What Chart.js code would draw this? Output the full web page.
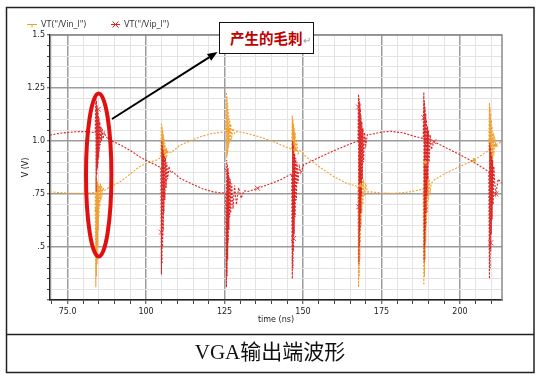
<!DOCTYPE html>
<html>
<head>
<meta charset="utf-8">
<script src="https://cdn.jsdelivr.net/npm/chart.js@4.4.0/dist/chart.umd.min.js"></script>
<style>
html,body{margin:0;padding:0;background:#fff;}
#wrap{position:relative;width:537px;height:379px;overflow:hidden;background:#fff;}
#c{position:absolute;left:0;top:0;}
#note{position:absolute;left:219px;top:22px;width:95px;height:32px;border:1px solid #111;background:#fff;box-sizing:border-box;
  font-family:"Noto Sans CJK SC",sans-serif;font-weight:bold;font-size:14.5px;color:#c00000;line-height:29px;padding-left:10px;white-space:nowrap;}
#note span{color:#999;font-weight:normal;font-size:10px;}
#cap{position:absolute;left:6px;width:528px;top:335px;height:37px;text-align:center;line-height:34px;
  font-family:"Liberation Serif","Noto Sans CJK SC",serif;font-size:21px;color:#111;}
</style>
</head>
<body>
<div id="wrap">
<canvas id="c" width="537" height="379"></canvas>
<div id="note">产生的毛刺<span>↵</span></div>
<div id="cap">VGA输出端波形</div>
</div>
<script>
// ---- data ----
const seriesNames = ['VT("/Vin_l")', 'VT("/Vip_l")'];

const vinT = [69.4,72.0,75.0,78.5,82.0,83.8,
  84.0,84.1,84.2,84.3,84.4,84.5,84.6,84.7,84.8,84.9,85.0,85.1,85.25,85.4,85.6,85.8,86.0,86.3,86.7,87.5,
  89.5,92.0,95.0,98.0,101.0,103.3,104.7,
  104.9,105.0,105.1,105.2,105.3,105.4,105.5,105.6,105.7,105.85,106.0,106.2,106.4,106.6,107.0,108.0,
  110.8,114.0,117.2,121.0,125.4,
  125.6,125.7,125.8,125.9,126.0,126.1,126.2,126.3,126.4,126.5,126.65,126.8,127.0,127.3,127.7,128.2,129.0,
  132.1,136.0,140.6,144.0,146.4,
  146.6,146.7,146.8,146.9,147.0,147.1,147.2,147.35,147.5,147.7,148.0,148.4,149.0,
  151.0,155.5,160.0,164.0,167.5,
  167.7,167.8,167.9,168.0,168.1,168.2,168.3,168.4,168.5,168.6,168.75,168.9,169.1,169.3,169.6,170.0,170.5,
  171.5,175.0,178.9,183.0,186.0,188.3,
  188.5,188.6,188.7,188.8,188.9,189.0,189.1,189.2,189.35,189.5,189.65,189.8,190.0,190.2,190.5,190.9,
  191.7,195.0,200.0,204.5,207.0,209.2,
  209.4,209.5,209.6,209.7,209.8,209.9,210.0,210.1,210.25,210.4,210.6,210.8,211.1,211.4,212.2,213.4];
const vinV = [0.760,0.757,0.754,0.753,0.755,0.757,
  0.31,0.83,0.36,0.82,0.42,0.81,0.50,0.80,0.58,0.79,0.64,0.79,0.69,0.80,0.72,0.79,0.75,0.78,0.765,0.775,
  0.79,0.81,0.845,0.88,0.90,0.91,0.92,
  1.085,0.86,1.07,0.87,1.05,0.88,1.03,0.89,1.01,0.90,0.99,0.91,0.97,0.93,0.95,0.945,
  0.98,1.0,1.02,1.035,1.044,
  1.23,0.92,1.21,0.93,1.18,0.95,1.15,0.97,1.12,0.99,1.10,1.00,1.08,1.02,1.06,1.035,1.045,
  1.036,1.02,0.997,0.975,0.96,
  1.12,0.94,1.10,0.95,1.08,0.955,1.06,0.96,1.04,0.95,1.0,0.94,0.955,
  0.925,0.875,0.83,0.80,0.785,
  0.31,0.94,0.36,0.92,0.44,0.90,0.52,0.88,0.60,0.86,0.66,0.84,0.70,0.82,0.74,0.80,0.76,
  0.76,0.755,0.753,0.758,0.765,0.775,
  0.32,0.92,0.36,0.90,0.44,0.88,0.52,0.86,0.60,0.84,0.66,0.83,0.72,0.82,0.76,0.80,
  0.815,0.845,0.88,0.91,0.935,0.955,
  1.18,0.80,1.16,0.82,1.13,0.85,1.10,0.88,1.07,0.90,1.04,0.93,1.01,0.98,0.99,0.995];

const vipT = [69.4,72.0,74.7,78.0,81.0,83.8,
  84.0,84.1,84.2,84.3,84.4,84.5,84.6,84.7,84.8,84.9,85.0,85.1,85.25,85.4,85.6,85.8,86.0,86.3,86.7,87.2,
  88.4,92.0,95.0,98.0,101.2,104.7,
  104.9,105.0,105.1,105.2,105.3,105.4,105.5,105.6,105.7,105.85,106.0,106.2,106.4,106.6,106.9,107.3,107.8,108.5,
  110.8,115.0,118.0,121.4,125.4,
  125.6,125.7,125.8,125.9,126.0,126.1,126.2,126.3,126.4,126.5,126.65,126.8,127.0,127.3,127.7,128.2,128.8,129.5,130.3,131.2,
  132.5,135.5,139.0,142.7,146.4,
  146.6,146.7,146.8,146.9,147.0,147.1,147.2,147.35,147.5,147.7,147.9,148.1,148.4,148.8,149.3,
  150.2,155.5,160.0,164.0,167.5,
  167.7,167.8,167.9,168.0,168.1,168.2,168.3,168.4,168.5,168.6,168.75,168.9,169.1,169.3,169.6,170.0,170.5,
  172.0,175.0,178.0,182.0,186.0,188.3,
  188.5,188.6,188.7,188.8,188.9,189.0,189.1,189.2,189.35,189.5,189.65,189.8,190.0,190.2,190.5,190.9,
  191.7,196.0,200.2,205.0,209.2,
  209.4,209.5,209.6,209.7,209.8,209.9,210.0,210.1,210.25,210.4,210.6,210.8,211.1,211.4,212.2,213.4];
const vipV = [1.028,1.035,1.040,1.044,1.044,1.039,
  1.21,0.76,1.19,0.84,1.17,0.87,1.15,0.89,1.13,0.92,1.11,0.95,1.09,0.98,1.07,1.00,1.06,1.01,1.04,1.02,
  1.005,0.98,0.955,0.925,0.90,0.875,
  0.37,1.00,0.42,0.98,0.50,0.96,0.58,0.94,0.66,0.93,0.72,0.92,0.78,0.90,0.82,0.88,0.85,0.855,
  0.824,0.795,0.775,0.760,0.753,
  0.31,0.91,0.36,0.89,0.44,0.87,0.52,0.85,0.58,0.83,0.64,0.82,0.66,0.80,0.68,0.79,0.70,0.78,0.73,0.765,
  0.762,0.777,0.795,0.816,0.845,
  0.35,1.00,0.40,0.98,0.48,0.96,0.56,0.94,0.64,0.92,0.72,0.90,0.80,0.88,0.85,
  0.887,0.925,0.955,0.98,1.0,
  1.22,0.42,1.20,0.50,1.18,0.58,1.15,0.66,1.12,0.74,1.09,0.82,1.06,0.90,1.04,0.98,1.03,
  1.032,1.042,1.046,1.038,1.02,1.012,
  1.23,0.43,1.19,0.50,1.16,0.58,1.13,0.66,1.10,0.74,1.07,0.82,1.05,0.90,1.03,0.96,
  0.997,0.965,0.934,0.895,0.855,
  0.35,0.99,0.40,0.97,0.48,0.95,0.56,0.93,0.63,0.91,0.70,0.88,0.80,0.75,0.82,0.80];

const vinMarkT = [84.2,106.5,126.2,147.5,168.3,189.0,204.5,211.4];
const vinMarkV = [0.675,0.95,1.05,0.96,0.79,0.90,0.91,0.98];
const vipMarkT = [84.8,85.2,104.9,125.7,126.0,135.5,147.0,167.7,167.8,169.3,188.5,191.7,209.8,211.4];
const vipMarkV = [1.15,1.05,0.57,0.86,0.71,0.777,0.54,1.16,0.69,1.0,1.11,0.997,0.52,0.75];

const xTickVals = [75,100,125,150,175,200];
const xTickLabels = ['75.0','100','125','150','175','200'];
const yTickVals = [1.5,1.25,1.0,0.75,0.5];
const yTickLabels = ['1.5','1.25','1.0','.75','.5'];
const xTitle = 'time (ns)';
const yTitle = 'V (V)';

// ---- chart ----
const ORANGE = '#f0a032';
const RED = '#dc2424';
const pts = (t, v) => t.map((x, i) => ({x: x, y: v[i]}));
const near = (v, arr) => arr.findIndex(a => Math.abs(a - v) < 1e-6);
const isMajorX = v => Math.abs(v / 25 - Math.round(v / 25)) < 1e-6;
const isMajorY = v => Math.abs(v * 4 - Math.round(v * 4)) < 1e-6;

const decor = {
  id: 'decor',
  afterDraw(chart) {
    const ctx = chart.ctx, a = chart.chartArea;
    ctx.save();
    // plot top/right border
    ctx.strokeStyle = '#8a8a8a'; ctx.lineWidth = 1.5;
    ctx.beginPath(); ctx.moveTo(a.left, a.top); ctx.lineTo(a.right, a.top); ctx.lineTo(a.right, a.bottom); ctx.stroke();
    // outer frame & divider
    ctx.strokeStyle = '#222'; ctx.lineWidth = 1.5;
    ctx.strokeRect(6.5, 7.5, 527.5, 365);
    ctx.beginPath(); ctx.moveTo(6.5, 334.5); ctx.lineTo(534, 334.5); ctx.stroke();
    // legend
    ctx.font = '8px "DejaVu Sans"'; ctx.textBaseline = 'middle'; ctx.fillStyle = '#333';
    ctx.strokeStyle = ORANGE; ctx.lineWidth = 1;
    ctx.beginPath(); ctx.moveTo(27, 24.5); ctx.lineTo(37, 24.5); ctx.moveTo(32, 24.5); ctx.lineTo(32, 27.5); ctx.stroke();
    ctx.fillText(seriesNames[0], 41, 24.5);
    ctx.strokeStyle = RED;
    ctx.beginPath(); ctx.moveTo(111, 24.5); ctx.lineTo(120, 24.5);
    ctx.moveTo(112.5, 21.5); ctx.lineTo(118.5, 27.5); ctx.moveTo(118.5, 21.5); ctx.lineTo(112.5, 27.5); ctx.stroke();
    ctx.fillText(seriesNames[1], 124, 24.5);
    // red ellipse
    ctx.strokeStyle = '#e01010'; ctx.lineWidth = 4;
    ctx.beginPath(); ctx.ellipse(98.7, 175, 12.7, 81.5, 0, 0, Math.PI * 2); ctx.stroke();
    // arrow
    const x0 = 112, y0 = 119, x1 = 217.5, y1 = 52;
    const ang = Math.atan2(y1 - y0, x1 - x0), hl = 10, hw = 4;
    const bx = x1 - hl * Math.cos(ang), by = y1 - hl * Math.sin(ang);
    ctx.strokeStyle = '#000'; ctx.fillStyle = '#000'; ctx.lineWidth = 2;
    ctx.beginPath(); ctx.moveTo(x0, y0); ctx.lineTo(bx, by); ctx.stroke();
    ctx.beginPath(); ctx.moveTo(x1, y1);
    ctx.lineTo(bx + hw * Math.sin(ang), by - hw * Math.cos(ang));
    ctx.lineTo(bx - hw * Math.sin(ang), by + hw * Math.cos(ang));
    ctx.closePath(); ctx.fill();
    ctx.restore();
  }
};

new Chart(document.getElementById('c'), {
  type: 'line',
  data: {
    datasets: [
      {label: seriesNames[1] + ' marks', data: pts(vipMarkT, vipMarkV), showLine: false, pointStyle: 'crossRot',
       pointRadius: 3.5, pointBorderColor: '#e23a3a', pointBorderWidth: 1, order: 0},
      {label: seriesNames[0] + ' marks', data: pts(vinMarkT, vinMarkV), showLine: false, pointStyle: 'triangle',
       pointRadius: 2, pointBackgroundColor: ORANGE, pointBorderColor: ORANGE, pointBorderWidth: 1, order: 0},
      {label: seriesNames[1], data: pts(vipT, vipV), borderColor: RED, borderWidth: 1.1, borderDash: [2, 1.5],
       pointRadius: 0, tension: 0, order: 1},
      {label: seriesNames[0], data: pts(vinT, vinV), borderColor: ORANGE, borderWidth: 1.1, borderDash: [2, 1.5],
       pointRadius: 0, tension: 0, order: 2}
    ]
  },
  options: {
    responsive: false,
    animation: false,
    events: [],
    layout: {padding: {left: 6, top: 35, right: 35, bottom: 53}},
    plugins: {legend: {display: false}, tooltip: {enabled: false}},
    scales: {
      x: {
        type: 'linear', min: 69.4, max: 213.4,
        afterFit(s) { s.height = 26; },
        ticks: {
          stepSize: 5, includeBounds: false, autoSkip: false, maxRotation: 0, padding: 3,
          font: {family: 'DejaVu Sans', size: 8}, color: '#222',
          callback: v => { const i = near(v, xTickVals); return i >= 0 ? xTickLabels[i] : ''; }
        },
        grid: {
          color: c => isMajorX(c.tick.value) ? '#9c9c9c' : '#e3e3e3',
          lineWidth: c => isMajorX(c.tick.value) ? 1.5 : 1,
          tickLength: 4, tickColor: '#444', tickWidth: 1
        },
        border: {color: '#222', width: 1.5},
        title: {display: true, text: xTitle, font: {family: 'DejaVu Sans', size: 8}, color: '#222', padding: {top: 0, bottom: 1}}
      },
      y: {
        type: 'linear', min: 0.25, max: 1.5,
        afterFit(s) { s.width = 44; },
        ticks: {
          stepSize: 0.05, autoSkip: false, padding: 2,
          font: {family: 'DejaVu Sans', size: 8}, color: '#222',
          callback: v => { const i = near(v, yTickVals); return i >= 0 ? yTickLabels[i] : ''; }
        },
        grid: {
          color: c => isMajorY(c.tick.value) ? '#9c9c9c' : '#e3e3e3',
          lineWidth: c => isMajorY(c.tick.value) ? 1.5 : 1,
          tickLength: 3, tickColor: '#444', tickWidth: 1
        },
        border: {color: '#222', width: 1.5},
        title: {display: true, text: yTitle, font: {family: 'DejaVu Sans', size: 8}, color: '#222', padding: {top: 15, bottom: 0}}
      }
    }
  },
  plugins: [decor]
});
</script>
</body>
</html>
